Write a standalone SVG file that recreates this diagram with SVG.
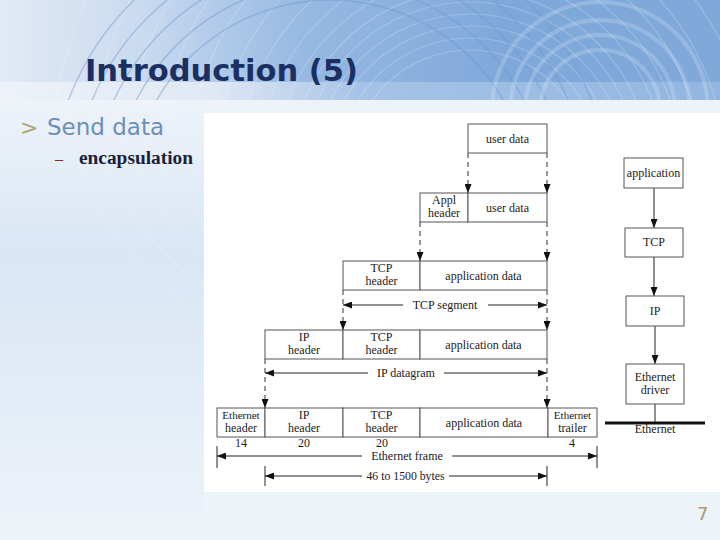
<svg xmlns="http://www.w3.org/2000/svg" width="720" height="540" viewBox="0 0 720 540">
<defs>
<linearGradient id="hdr" x1="0" y1="0" x2="1" y2="0">
<stop offset="0" stop-color="#e2eaf5"/>
<stop offset="0.2" stop-color="#c9daef"/>
<stop offset="0.42" stop-color="#97b9e2"/>
<stop offset="0.7" stop-color="#7fa8da"/>
<stop offset="1" stop-color="#80a9da"/>
</linearGradient>
<linearGradient id="band" x1="0" y1="0" x2="1" y2="0">
<stop offset="0" stop-color="#eef2f8"/>
<stop offset="0.3" stop-color="#dfe8f4"/>
<stop offset="0.5" stop-color="#a6c3e6"/>
<stop offset="1" stop-color="#92b6e1"/>
</linearGradient>
<linearGradient id="side" x1="0" y1="0" x2="0" y2="1">
<stop offset="0" stop-color="#eef3f9"/>
<stop offset="0.35" stop-color="#d9e6f4"/>
<stop offset="0.7" stop-color="#e4edf7"/>
<stop offset="1" stop-color="#eef3f9"/>
</linearGradient>
<clipPath id="hclip"><rect x="0" y="0" width="720" height="100"/></clipPath>
<clipPath id="sclip"><rect x="0" y="100" width="204" height="340"/></clipPath>
<marker id="ah" markerUnits="userSpaceOnUse" markerWidth="9" markerHeight="7" refX="9" refY="3.5" orient="auto">
<path d="M0,0 L9,3.5 L0,7 z" fill="#111"/>
</marker>
<style>
.box{fill:#fff;stroke:#555;stroke-width:1}
.t{font-family:"Liberation Serif","Times New Roman",serif;font-size:12px;fill:#1a1a1a;text-anchor:middle}
.ts{font-family:"Liberation Serif","Times New Roman",serif;font-size:11px;fill:#1a1a1a;text-anchor:middle}
.dash{stroke:#333;stroke-width:1;stroke-dasharray:5,4;fill:none}
.sol{stroke:#222;stroke-width:1;fill:none}
.ring{fill:none;stroke:#ffffff;stroke-opacity:0.2;stroke-width:1.2}
.dring{fill:none;stroke:#6f98cf;stroke-opacity:0.45;stroke-width:1.5}
.wring{fill:none;stroke:#ffffff;stroke-opacity:0.18;stroke-width:4}
</style>
</defs>

<!-- slide background -->
<rect x="0" y="0" width="720" height="540" fill="#eef3f9"/>
<rect x="0" y="0" width="720" height="82" fill="url(#hdr)"/>
<rect x="0" y="82" width="720" height="18" fill="url(#band)"/>
<g clip-path="url(#hclip)">
<circle class="ring" cx="470" cy="170" r="120"/>
<circle class="ring" cx="470" cy="170" r="132"/>
<circle class="ring" cx="470" cy="170" r="144"/>
<circle class="ring" cx="470" cy="170" r="156"/>
<circle class="ring" cx="470" cy="170" r="168"/>
<circle class="ring" cx="470" cy="170" r="180"/>
<circle class="ring" cx="470" cy="170" r="195"/>
<circle class="ring" cx="470" cy="170" r="212"/>
<circle class="ring" cx="470" cy="170" r="232"/>
<circle class="ring" cx="470" cy="170" r="255"/>
<circle class="ring" cx="470" cy="170" r="282"/>
<circle class="ring" cx="470" cy="170" r="312"/>
<circle class="ring" cx="470" cy="170" r="345"/>
<circle class="ring" cx="470" cy="170" r="380"/>
<circle class="ring" cx="470" cy="170" r="420"/>
<circle class="dring" cx="330" cy="200" r="200"/>
<circle class="dring" cx="330" cy="200" r="218"/>
<circle class="dring" cx="330" cy="200" r="238"/>
<circle class="dring" cx="330" cy="200" r="258"/>
<circle class="dring" cx="330" cy="200" r="280"/>
<circle class="wring" cx="600" cy="110" r="60"/>
<circle class="wring" cx="600" cy="110" r="75"/>
<circle class="wring" cx="600" cy="110" r="90"/>
<circle class="wring" cx="600" cy="110" r="108"/>
</g>
<rect x="0" y="100" width="204" height="440" fill="url(#side)"/>
<g clip-path="url(#sclip)">
<circle class="ring" cx="360" cy="60" r="200"/>
<circle class="ring" cx="360" cy="60" r="225"/>
<circle class="ring" cx="360" cy="60" r="250"/>
<circle class="ring" cx="360" cy="60" r="275"/>
<circle class="ring" cx="360" cy="60" r="300"/>
</g>
<rect x="204" y="113" width="516" height="379" fill="#ffffff"/>

<!-- slide texts -->
<text x="85" y="81" font-family="'DejaVu Sans',Verdana,sans-serif" font-weight="bold" font-size="30" fill="#1b2f63" textLength="273" lengthAdjust="spacingAndGlyphs">Introduction (5)</text>
<text x="20" y="135" font-family="'DejaVu Sans',Verdana,sans-serif" font-size="22" fill="#b3a377">&gt;</text>
<text x="47" y="135" font-family="'DejaVu Sans',Verdana,sans-serif" font-size="23" fill="#6b8fbb">Send data</text>
<text x="55" y="164" font-family="'Liberation Serif',serif" font-size="16" fill="#8b2a2a">–</text>
<text x="79" y="164" font-family="'Liberation Serif','Times New Roman',serif" font-weight="bold" font-size="18" fill="#1a1f3d" textLength="114" lengthAdjust="spacingAndGlyphs">encapsulation</text>
<text x="697" y="520" font-family="'DejaVu Sans',Verdana,sans-serif" font-size="18" fill="#a69a6a">7</text>

<!-- connectors -->
<g id="connectors">
<line class="dash" x1="468" y1="153" x2="468" y2="193" marker-end="url(#ah)"/>
<line class="dash" x1="547" y1="153" x2="547" y2="193" marker-end="url(#ah)"/>
<line class="dash" x1="420" y1="222" x2="420" y2="261" marker-end="url(#ah)"/>
<line class="dash" x1="547" y1="222" x2="547" y2="261" marker-end="url(#ah)"/>
<line class="dash" x1="343" y1="290" x2="343" y2="330" marker-end="url(#ah)"/>
<line class="dash" x1="547" y1="290" x2="547" y2="330" marker-end="url(#ah)"/>
<line class="dash" x1="265" y1="359" x2="265" y2="408" marker-end="url(#ah)"/>
<line class="dash" x1="547" y1="359" x2="547" y2="408" marker-end="url(#ah)"/>
<!-- TCP segment -->
<line class="sol" x1="403" y1="305" x2="343" y2="305" marker-end="url(#ah)"/>
<line class="sol" x1="488" y1="305" x2="547" y2="305" marker-end="url(#ah)"/>
<!-- IP datagram -->
<line class="sol" x1="368" y1="373" x2="265" y2="373" marker-end="url(#ah)"/>
<line class="sol" x1="444" y1="373" x2="547" y2="373" marker-end="url(#ah)"/>
<!-- Ethernet frame -->
<line class="sol" x1="217" y1="446" x2="217" y2="468"/>
<line class="sol" x1="597" y1="446" x2="597" y2="468"/>
<line class="sol" x1="362" y1="456" x2="217" y2="456" marker-end="url(#ah)"/>
<line class="sol" x1="452" y1="456" x2="597" y2="456" marker-end="url(#ah)"/>
<!-- 46 to 1500 bytes -->
<line class="sol" x1="265" y1="466" x2="265" y2="486"/>
<line class="sol" x1="547" y1="466" x2="547" y2="486"/>
<line class="sol" x1="362" y1="476" x2="265" y2="476" marker-end="url(#ah)"/>
<line class="sol" x1="449" y1="476" x2="547" y2="476" marker-end="url(#ah)"/>
<!-- protocol stack -->
<line class="sol" x1="654" y1="188" x2="654" y2="228" marker-end="url(#ah)"/>
<line class="sol" x1="654" y1="257" x2="654" y2="296" marker-end="url(#ah)"/>
<line class="sol" x1="655" y1="326" x2="655" y2="364" marker-end="url(#ah)"/>
<line class="sol" x1="655" y1="404" x2="655" y2="423"/>
<line x1="605" y1="423" x2="705" y2="423" stroke="#111" stroke-width="3"/>
</g>

<!-- labels on connectors -->
<text class="t" x="445" y="309">TCP segment</text>
<text class="t" x="406" y="377">IP datagram</text>
<text class="t" x="407" y="460">Ethernet frame</text>
<text class="t" x="405.5" y="480" textLength="78" lengthAdjust="spacingAndGlyphs">46 to 1500 bytes</text>
<text class="t" x="241" y="447">14</text>
<text class="t" x="304" y="447">20</text>
<text class="t" x="382" y="447">20</text>
<text class="t" x="572" y="447">4</text>

<!-- row 1 -->
<g id="user-data-1">
<rect class="box" x="468" y="124" width="79" height="29"/>
<text class="t" x="507.5" y="142.5">user data</text>
</g>
<!-- row 2 -->
<g id="appl-header-2">
<rect class="box" x="420" y="193" width="48" height="29"/>
<text class="t" x="444" y="204">Appl</text>
<text class="t" x="444" y="217">header</text>
</g>
<g id="user-data-2">
<rect class="box" x="468" y="193" width="79" height="29"/>
<text class="t" x="507.5" y="211.5">user data</text>
</g>
<!-- row 3 -->
<g id="tcp-header-3">
<rect class="box" x="343" y="261" width="77" height="29"/>
<text class="t" x="381.5" y="272">TCP</text>
<text class="t" x="381.5" y="285">header</text>
</g>
<g id="app-data-3">
<rect class="box" x="420" y="261" width="127" height="29"/>
<text class="t" x="483.5" y="279.5">application data</text>
</g>
<!-- row 4 -->
<g id="ip-header-4">
<rect class="box" x="265" y="330" width="78" height="29"/>
<text class="t" x="304" y="341">IP</text>
<text class="t" x="304" y="354">header</text>
</g>
<g id="tcp-header-4">
<rect class="box" x="343" y="330" width="77" height="29"/>
<text class="t" x="381.5" y="341">TCP</text>
<text class="t" x="381.5" y="354">header</text>
</g>
<g id="app-data-4">
<rect class="box" x="420" y="330" width="127" height="29"/>
<text class="t" x="483.5" y="348.5">application data</text>
</g>
<!-- row 5 -->
<g id="eth-header-5">
<rect class="box" x="217" y="408" width="48" height="29"/>
<text class="ts" x="241" y="419">Ethernet</text>
<text class="t" x="241" y="432">header</text>
</g>
<g id="ip-header-5">
<rect class="box" x="265" y="408" width="78" height="29"/>
<text class="t" x="304" y="419">IP</text>
<text class="t" x="304" y="432">header</text>
</g>
<g id="tcp-header-5">
<rect class="box" x="343" y="408" width="77" height="29"/>
<text class="t" x="381.5" y="419">TCP</text>
<text class="t" x="381.5" y="432">header</text>
</g>
<g id="app-data-5">
<rect class="box" x="420" y="408" width="128" height="29"/>
<text class="t" x="484" y="426.5">application data</text>
</g>
<g id="eth-trailer-5">
<rect class="box" x="548" y="408" width="49" height="29"/>
<text class="ts" x="572.5" y="419">Ethernet</text>
<text class="t" x="572.5" y="432">trailer</text>
</g>

<!-- protocol stack -->
<g id="stack-application">
<rect class="box" x="624" y="158" width="59" height="30"/>
<text class="t" x="653.5" y="177">application</text>
</g>
<g id="stack-tcp">
<rect class="box" x="625" y="228" width="58" height="29"/>
<text class="t" x="654" y="246">TCP</text>
</g>
<g id="stack-ip">
<rect class="box" x="626" y="296" width="58" height="30"/>
<text class="t" x="655" y="315">IP</text>
</g>
<g id="stack-ethernet-driver">
<rect class="box" x="626" y="364" width="58" height="40"/>
<text class="t" x="655" y="381">Ethernet</text>
<text class="t" x="655" y="394">driver</text>
</g>
<text class="t" x="655" y="433">Ethernet</text>
</svg>
